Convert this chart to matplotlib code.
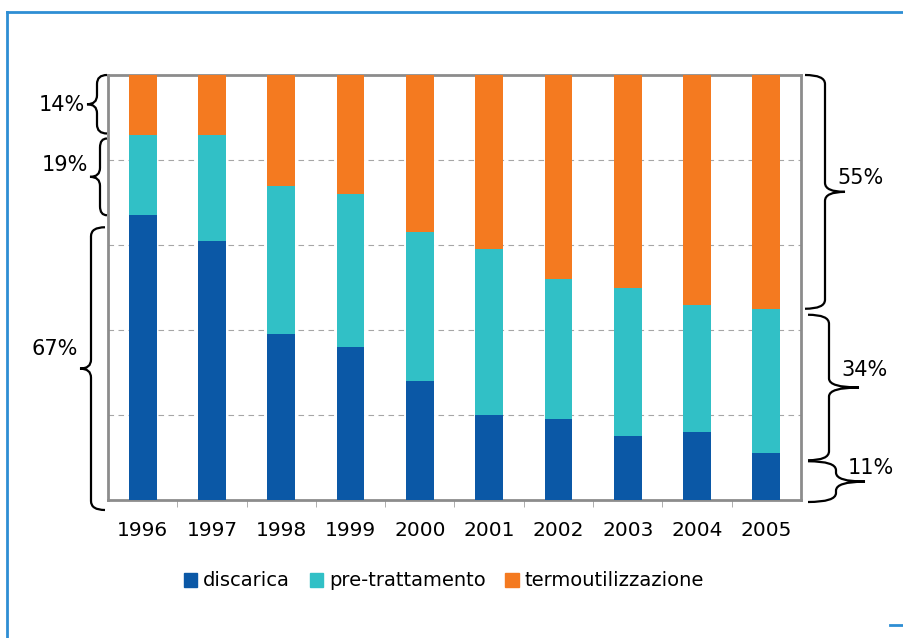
import numpy as np
import matplotlib
matplotlib.use("Agg")
import matplotlib.pyplot as plt
from matplotlib.path import Path
from matplotlib.patches import PathPatch, Patch
from matplotlib.lines import Line2D

# data (percent of total)
years = ["1996", "1997", "1998", "1999", "2000", "2001", "2002", "2003", "2004", "2005"]
discarica = [67, 61, 39, 36, 28, 20, 19, 15, 16, 11]
pretrattamento = [19, 25, 35, 36, 35, 39, 33, 35, 30, 34]
termo = [14, 14, 26, 28, 37, 41, 48, 50, 54, 55]

c_disc = "#0B58A6"
c_pre = "#31C0C6"
c_termo = "#F47A20"

fig = plt.figure(figsize=(9.04, 6.38), dpi=100)
W, H = 904, 638
ax = fig.add_axes([108 / W, 1 - 500 / H, (801 - 108) / W, (500 - 75) / H])

x = np.arange(len(years))
d = np.array(discarica)
p = np.array(pretrattamento)
t = np.array(termo)
ax.bar(x, d, width=0.4, color=c_disc, zorder=3)
ax.bar(x, p, width=0.4, bottom=d, color=c_pre, zorder=3)
ax.bar(x, t, width=0.4, bottom=d + p, color=c_termo, zorder=3)

ax.set_xlim(-0.5, len(years) - 0.5)
ax.set_ylim(0, 100)
ax.set_yticks([20, 40, 60, 80])
ax.set_yticklabels([])
ax.tick_params(axis="y", length=0)
ax.grid(axis="y", color="#a6a6a6", linestyle=(0, (5, 4)), linewidth=0.8, zorder=0)
ax.set_xticks(x)
ax.set_xticklabels(years, fontsize=14.5)
ax.tick_params(axis="x", which="major", length=0, pad=15)
ax.set_xticks(np.arange(0.5, len(years) - 1, 1), minor=True)
ax.tick_params(axis="x", which="minor", length=5, color="#a0a0a0", direction="out")
for s in ax.spines.values():
    s.set_color("#8c8c8c")
    s.set_linewidth(2)

handles = [Patch(color=c_disc), Patch(color=c_pre), Patch(color=c_termo)]
fig.legend(handles, ["discarica", "pre-trattamento", "termoutilizzazione"],
           loc="center", bbox_to_anchor=(444 / W, 1 - 581 / H), ncol=3, frameon=False,
           fontsize=14, handlelength=0.7, handleheight=0.7, handletextpad=0.3,
           columnspacing=1.0)

fig.canvas.draw()
L = ax.bbox.x0
R = ax.bbox.x1
to_fig = fig.transFigure.inverted().transform


def brace(y_top, y_bot, x_end, x_spine, x_tip, label, side, pad_t=0, pad_b=0, dy=0, r=9):
    yt = ax.transData.transform((0, y_top))[1] - pad_t
    yb = ax.transData.transform((0, y_bot))[1] - pad_b
    ym = (yt + yb) / 2
    verts = [(x_end, yt), (x_spine, yt), (x_spine, yt - r), (x_spine, ym + r),
             (x_spine, ym), (x_tip, ym), (x_spine, ym), (x_spine, ym - r),
             (x_spine, yb + r), (x_spine, yb), (x_end, yb)]
    codes = [Path.MOVETO, Path.CURVE3, Path.CURVE3, Path.LINETO, Path.CURVE3, Path.CURVE3,
             Path.CURVE3, Path.CURVE3, Path.LINETO, Path.CURVE3, Path.CURVE3]
    fig.add_artist(PathPatch(Path(to_fig(verts), codes), fill=False, lw=1.6,
                             edgecolor="black", transform=fig.transFigure))
    if side == "left":
        tx, ha = x_tip - 2, "right"
    else:
        tx, ha = x_spine + 12, "left"
    fx, fy = to_fig((tx, ym + dy))
    fig.text(fx, fy, label, ha=ha, va="center", fontsize=15)


# left braces: shares of 1996
brace(100, 100 - termo[0], L - 1, L - 11, L - 21, f"{termo[0]}%", "left", pad_b=-1, dy=-1)
brace(discarica[0] + pretrattamento[0], discarica[0], L - 1, L - 8, L - 18,
      f"{pretrattamento[0]}%", "left", pad_t=4, dy=12)
brace(discarica[0], 0, L - 3, L - 17, L - 28, f"{discarica[0]}%", "left",
      pad_t=12, pad_b=10, dy=20)
# right braces: shares of 2005
brace(100, 100 - termo[-1], R + 4, R + 24, R + 44, f"{termo[-1]}%", "right", dy=14)
brace(100 - termo[-1], discarica[-1], R + 7, R + 28, R + 58, f"{pretrattamento[-1]}%", "right",
      pad_t=6, pad_b=7, dy=18)
brace(discarica[-1], 0, R + 7, R + 35, R + 64, f"{discarica[-1]}%", "right",
      pad_t=8, pad_b=2, dy=14)

# blue frame
fc = "#2E8ED4"
fig.add_artist(Line2D([7 / W, 7 / W], [0, 1 - 12 / H], color=fc, lw=2, transform=fig.transFigure))
fig.add_artist(Line2D([7 / W, 1], [1 - 12 / H, 1 - 12 / H], color=fc, lw=2, transform=fig.transFigure))
fig.add_artist(Line2D([890 / W, 1], [1 - 625 / H, 1 - 625 / H], color=fc, lw=2, transform=fig.transFigure))

fig.savefig("out.png", dpi=100)
